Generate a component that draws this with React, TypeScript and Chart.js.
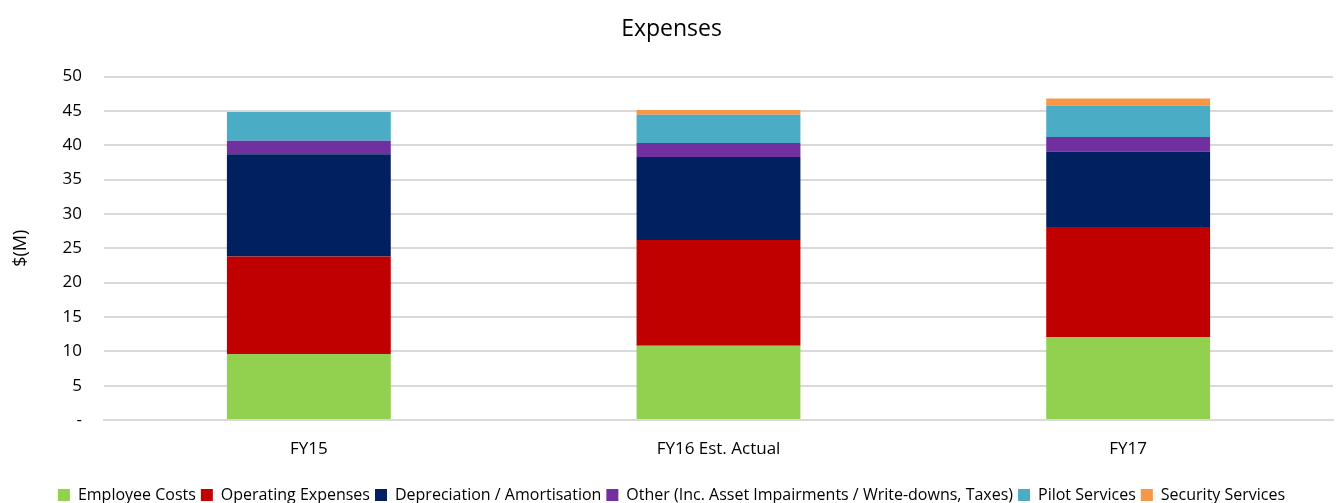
import React, { useEffect, useRef } from "react";
import { Chart, registerables } from "chart.js";

Chart.register(...registerables);

const categories = ["FY15", "FY16 Est. Actual", "FY17"];
const employeeCosts = [9.6, 10.8, 12.1];
const operatingExpenses = [14.2, 15.4, 16.0];
const depreciation = [14.9, 12.1, 11.0];
const otherCosts = [1.95, 2.05, 2.1];
const pilotServices = [4.2, 4.1, 4.6];
const securityServices = [0, 0.7, 1.0];
const yTicks = [0, 5, 10, 15, 20, 25, 30, 35, 40, 45, 50];

const FONT = "'Open Sans', sans-serif";

export default function App() {
  const ref = useRef<HTMLCanvasElement | null>(null);
  useEffect(() => {
    document.body.style.margin = "0";
    const ctx = ref.current!;
    const mk = (label: string, data: number[], color: string) => ({
      label,
      data,
      backgroundColor: color,
      borderWidth: 0,
      barPercentage: 0.4,
      categoryPercentage: 1,
    });
    const chart = new Chart(ctx, {
      type: "bar",
      data: {
        labels: categories,
        datasets: [
          mk("Employee Costs", employeeCosts, "#92D050"),
          mk("Operating Expenses", operatingExpenses, "#C00000"),
          mk("Depreciation / Amortisation", depreciation, "#002060"),
          mk("Other (Inc. Asset Impairments / Write-downs, Taxes)", otherCosts, "#7030A0"),
          mk("Pilot Services", pilotServices, "#4BACC6"),
          mk("Security Services", securityServices, "#F79646"),
        ],
      },
      options: {
        responsive: false,
        animation: false,
        layout: { padding: { left: 10, right: 4, top: 16, bottom: -10 } },
        plugins: {
          title: {
            display: true,
            text: "Expenses",
            color: "#000",
            font: { family: FONT, size: 23, weight: "normal" },
            padding: { top: 0, bottom: 33 },
          },
          legend: {
            position: "bottom",
            labels: {
              color: "#000",
              boxWidth: 12,
              boxHeight: 12,
              padding: 5,
              font: { family: FONT, size: 16 },
            },
          },
          tooltip: { enabled: false },
        },
        scales: {
          x: {
            stacked: true,
            grid: { display: false },
            border: { display: true, color: "#d9d9d9", width: 2 },
            ticks: { color: "#000", padding: 11, font: { family: FONT, size: 17 } },
            afterFit: (s: any) => {
              s.height = 62;
            },
          },
          y: {
            stacked: true,
            min: 0,
            max: 50,
            afterBuildTicks: (axis: any) => {
              axis.ticks = yTicks.map((v) => ({ value: v }));
            },
            afterFit: (s: any) => {
              s.width = 94;
            },
            grid: { color: "#d9d9d9", lineWidth: 2, drawTicks: false },
            border: { display: false },
            ticks: {
              color: "#000",
              padding: 22,
              font: { family: FONT, size: 17 },
              callback: (v: any) => (Number(v) === 0 ? "-" : String(v)),
            },
            title: {
              display: true,
              text: "$(M)",
              color: "#000",
              font: { family: FONT, size: 18 },
              padding: { top: 0, bottom: 0 },
            },
          },
        },
      },
    });
    return () => chart.destroy();
  }, []);
  return (
    <div style={{ position: "absolute", left: 0, top: 0, width: 1337, height: 503, background: "#fff" }}>
      <canvas ref={ref} width={1337} height={503} />
    </div>
  );
}
